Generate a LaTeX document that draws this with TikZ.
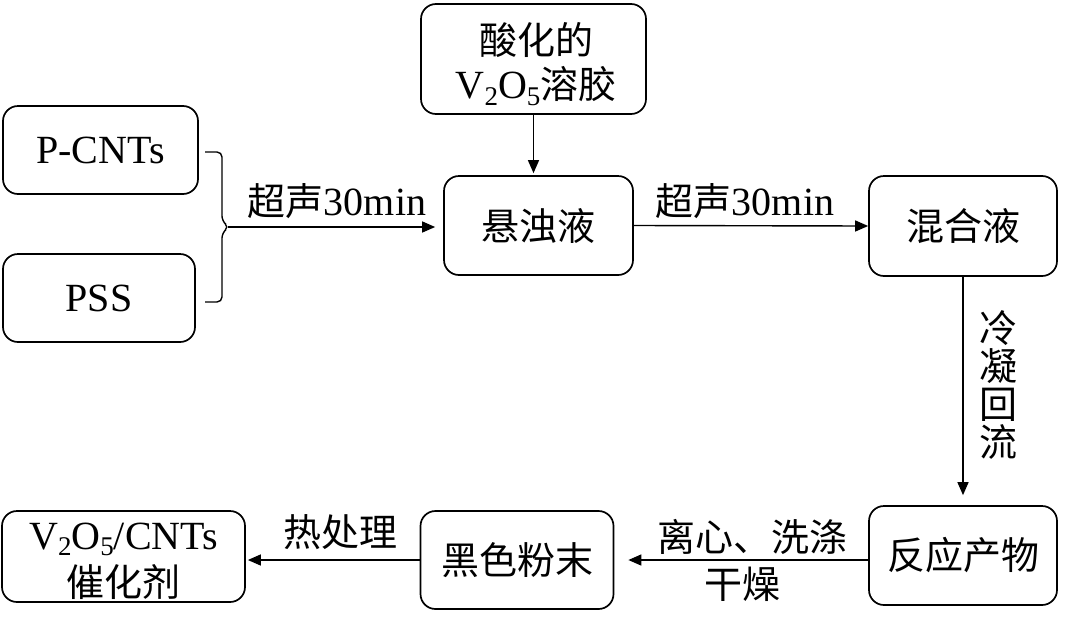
\documentclass[tikz,border=0pt]{standalone}
\usepackage{fontspec}
\setmainfont{Liberation Serif}
\newfontfamily\cjk[Scale=0.95]{Noto Sans CJK SC}
\usetikzlibrary{arrows.meta}
\newcommand{\lowsub}[1]{\raisebox{-0.16em}{\fontsize{27}{27}\selectfont #1}}
\begin{document}
\begin{tikzpicture}[x=1pt,y=-1pt,
 box/.style={draw,line width=1.7pt,rounded corners=15pt,inner sep=0pt,align=center,font=\fontsize{40}{44}\selectfont},
 zbox/.style={box,font=\cjk\fontsize{40}{44}\selectfont},
 arr/.style={line width=1.4pt,-{Triangle[length=13pt,width=11pt]}},
 lbl/.style={inner sep=0pt,align=center,font=\fontsize{40}{44}\selectfont},
 zlbl/.style={lbl,font=\cjk\fontsize{40}{44}\selectfont},
 brk/.style={line width=1.4pt,rounded corners=5pt}]
\useasboundingbox (0,0) rectangle (1065,627);
\node[box,minimum width=195pt,minimum height=88pt] (pcnt) at (100.5,150) {P-CNTs};
\node[box,minimum width=192pt,minimum height=88pt] (pss) at (99,298) {PSS};
\node[box,minimum width=225pt,minimum height=110pt] (top) at (533.5,59) {};
\node[lbl] (toptext) at (536,64) {{\cjk 酸化的}\\V\lowsub{2}O\lowsub{5}{\cjk 溶胶}};
\node[zbox,minimum width=189pt,minimum height=99pt] (susp) at (538.5,225.5) {悬浊液};
\node[zbox,minimum width=188pt,minimum height=100pt] (mixed) at (963,226) {混合液};
\node[zbox,minimum width=188pt,minimum height=99pt] (react) at (963,555.5) {反应产物};
\node[zbox,minimum width=193pt,minimum height=98pt] (black) at (517,560) {黑色粉末};
\node[box,minimum width=243pt,minimum height=91pt] (cat) at (123.5,556.5) {};
\node[lbl,anchor=base] (cattext1) at (123.5,549) {V\lowsub{2}O\lowsub{5}/CNTs};
\node[zlbl,anchor=base,text height=30pt,text depth=3pt] (cattext2) at (123.5,596) {催化剂};
% bracket
\draw[brk] (205,152) -- (222,152) -- (222,221) -- (229,227) -- (222,233) -- (222,302) -- (205,302);
\coordinate (tip) at (228,227);
% connectors
\draw[arr,shorten >=8pt] (tip) -- (tip -| susp.west);
\draw[arr,shorten >=2pt] (top.south) -- (top.south |- susp.north);
\draw[arr] (susp.east) -- (mixed.west);
\draw[arr,shorten >=10pt] (mixed.south) -- (react.north);
\draw[arr,shorten >=14pt] (black.east -| react.west) -- (black.east);
\draw[arr,shorten >=2pt] (black.west) -- (black.west -| cat.east);
% labels
\node[lbl] (l1) at (337,201) {{\cjk 超声}30min};
\node[lbl] (l2) at (745,201) {{\cjk 超声}30min};
\node[zlbl,font=\cjk\fontsize{40}{38}\selectfont] (l3) at (998,385) {冷\\凝\\回\\流};
\node[zlbl] (l4) at (340,532) {热处理};
\node[zlbl] (l5) at (752,537) {离心、洗涤};
\node[zlbl] (l6) at (742,584) {干燥};
\end{tikzpicture}
\end{document}
